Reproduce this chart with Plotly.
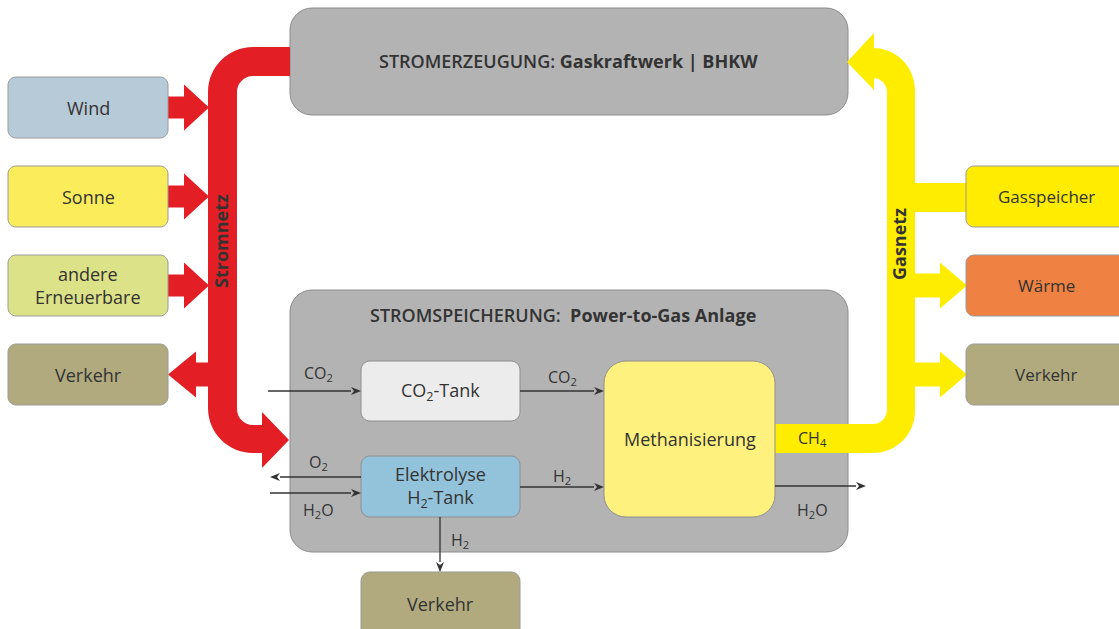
import math
import plotly.graph_objects as go

# ---------------- data (labels / categories) ----------------
source_labels = ["Wind", "Sonne", "andere<br>Erneuerbare"]
source_colors = ["#b7cad8", "#fbec5c", "#dce287"]
left_sink_label = "Verkehr"
right_labels = ["Gasspeicher", "Wärme", "Verkehr"]
right_colors = ["#ffec00", "#ef8142", "#b0aa7e"]
top_title = "STROMERZEUGUNG: <b>Gaskraftwerk | BHKW</b>"
storage_title = "STROMSPEICHERUNG:  <b>Power-to-Gas Anlage</b>"
inner_labels = ["CO<sub>2</sub>-Tank", "Elektrolyse<br>H<sub>2</sub>-Tank", "Methanisierung"]
inner_colors = ["#ececec", "#93c3da", "#fef17e"]
flow_labels = ["CO<sub>2</sub>", "CO<sub>2</sub>", "O<sub>2</sub>", "H<sub>2</sub>O", "H<sub>2</sub>",
               "H<sub>2</sub>", "H<sub>2</sub>O", "CH<sub>4</sub>"]
bottom_label = "Verkehr"
pipe_labels = ["<b>Stromnetz</b>", "<b>Gasnetz</b>"]

# ---------------- geometry (pixel layout) ----------------
W, H = 1119, 629
RED, YEL = "#e31e24", "#ffed00"
GRAY, GRAY_LINE = "#b3b3b3", "#8c8c8c"
TXT = "#333333"
FONT = "Open Sans"

left_box_x = (8, 168)
source_y = [(77, 138), (166, 227), (255, 316)]
left_sink_y = (344, 405)
right_box_x = (966, 1135)
right_y = [(166, 227), (255, 316), (344, 405)]
top_box = (290, 8, 848, 115)
store_box = (290, 290, 848, 552)
inner_boxes = [(361, 361, 520, 421), (361, 456, 520, 517), (604, 361, 775, 517)]
bottom_box = (361, 572, 520, 640)
thin_flows = [((268, 391), (361, 391)), ((520, 391), (604, 391)), ((361, 477), (270, 477)),
              ((270, 493), (361, 493)), ((520, 487), (604, 487)), ((440, 517), (440, 572)),
              ((775, 486), (866, 486))]
flow_pos = [(318, 373), (562, 377), (318, 462), (318, 510), (562, 476), (460, 540), (812, 510), (812, 438)]


def fmt(p):
    return f"{p[0]:.2f},{p[1]:.2f}"


def corner(p1, k, p2):
    c1 = (p1[0] + 0.552 * (k[0] - p1[0]), p1[1] + 0.552 * (k[1] - p1[1]))
    c2 = (p2[0] + 0.552 * (k[0] - p2[0]), p2[1] + 0.552 * (k[1] - p2[1]))
    return f"L{fmt(p1)} C{fmt(c1)} {fmt(c2)} {fmt(p2)} "


def rrect(x0, y0, x1, y1, r):
    return (f"M{x0 + r},{y0} " +
            corner((x1 - r, y0), (x1, y0), (x1, y0 + r)) +
            corner((x1, y1 - r), (x1, y1), (x1 - r, y1)) +
            corner((x0 + r, y1), (x0, y1), (x0, y1 - r)) +
            corner((x0, y0 + r), (x0, y0), (x0 + r, y0)) + "Z")


shapes = []


def add_path(path, fill, line_color=None, width=0):
    shapes.append(dict(type="path", path=path, xref="x", yref="y", fillcolor=fill,
                       line=dict(color=line_color or fill, width=width), layer="above"))


def arrow_h(x0, xb, xt, yc, hs, hh):
    return (f"M{x0},{yc - hs} L{xb},{yc - hs} L{xb},{yc - hh} L{xt},{yc} "
            f"L{xb},{yc + hh} L{xb},{yc + hs} L{x0},{yc + hs} Z")


# ---- big gray boxes (drawn first, pipes run over the lower one) ----
add_path(rrect(*top_box, 22), GRAY, GRAY_LINE, 1)
add_path(rrect(*store_box, 22), GRAY, GRAY_LINE, 1)

# ---- red pipe (Stromnetz) ----
ro, ri = 45, 16
red_pipe = ("M290,47 " +
            corner((208 + ro, 47), (208, 47), (208, 47 + ro)) +
            corner((208, 453 - ro), (208, 453), (208 + ro, 453)) +
            "L262,453 L262,468 L289,440 L262,412 L262,425 " +
            corner((237 + ri, 425), (237, 425), (237, 425 - ri)) +
            corner((237, 76 + ri), (237, 76), (237 + ri, 76)) +
            "L290,76 Z")
add_path(red_pipe, RED)
for (y0, y1) in source_y:
    yc = (y0 + y1) / 2
    add_path(arrow_h(164, 184, 209, yc, 11, 23), RED)
yc = sum(left_sink_y) / 2
add_path(arrow_h(212, 196, 168, yc, 12, 23), RED)

# ---- yellow pipe (Gasnetz) ----
yo, yi = 42, 14
yel_pipe = ("M770,424 " +
            corner((887 - yi, 424), (887, 424), (887, 424 - yi)) +
            corner((887, 78 + yi), (887, 78), (887 - yi, 78)) +
            "L874,78 L874,90 L847,62 L874,33 L874,48 " +
            corner((915 - yo, 48), (915, 48), (915, 48 + yo)) +
            corner((915, 453 - yo), (915, 453), (915 - yo, 453)) +
            "L770,453 Z")
add_path(yel_pipe, YEL)
add_path("M910,183 L970,183 L970,212 L910,212 Z", YEL)
for (y0, y1) in right_y[1:]:
    yc = (y0 + y1) / 2
    add_path(arrow_h(910, 940, 967, yc, 12, 23), YEL)

# ---- small boxes ----
for (y0, y1), c in zip(source_y, source_colors):
    add_path(rrect(left_box_x[0], y0, left_box_x[1], y1, 8), c, "#9a9a9a", 1)
add_path(rrect(left_box_x[0], left_sink_y[0], left_box_x[1], left_sink_y[1], 8), "#b0aa7e", "#9a9a9a", 1)
for (y0, y1), c in zip(right_y, right_colors):
    add_path(rrect(right_box_x[0], y0, right_box_x[1], y1, 8), c, "#9a9a9a", 1)
for b, c in zip(inner_boxes, inner_colors):
    r = 22 if b[2] - b[0] > 165 else 9
    add_path(rrect(*b, r), c, "#8f8f8f", 1)
add_path(rrect(*bottom_box, 9), "#b0aa7e", "#9a9a9a", 1)

# ---- thin flow arrows (line + small filled head) ----
for (x0, y0), (x1, y1) in thin_flows:
    L = math.hypot(x1 - x0, y1 - y0)
    ux, uy = (x1 - x0) / L, (y1 - y0) / L
    hl, hw = 10, 4
    bx, by = x1 - ux * hl, y1 - uy * hl
    shapes.append(dict(type="line", x0=x0, y0=y0, x1=bx, y1=by, xref="x", yref="y",
                       line=dict(color="#333333", width=1.3), layer="above"))
    add_path(f"M{fmt((x1, y1))} L{fmt((bx - uy * hw, by + ux * hw))} "
             f"L{fmt((bx + ux * 3, by + uy * 3))} L{fmt((bx + uy * hw, by - ux * hw))} Z", "#333333")

# ---- annotations ----
ann = []


def label(x, y, text, size=18, angle=0, weight="normal"):
    ann.append(dict(x=x, y=y, xref="x", yref="y", text=text, showarrow=False, textangle=angle,
                    font=dict(family=FONT, size=size, color=TXT, weight=weight),
                    xanchor="center", yanchor="middle"))


label(568, 61, top_title, 18, weight=600)
label(563, 315, storage_title, 18, weight=600)
for (y0, y1), t in zip(source_y, source_labels):
    label(sum(left_box_x) / 2, (y0 + y1) / 2, t)
label(sum(left_box_x) / 2, sum(left_sink_y) / 2, left_sink_label)
for (y0, y1), t in zip(right_y, right_labels):
    label(1046, (y0 + y1) / 2, t, 17)
for b, t in zip(inner_boxes, inner_labels):
    label((b[0] + b[2]) / 2, (b[1] + b[3]) / 2, t, 18)
label(440, 604, bottom_label)
label(221, 241, pipe_labels[0], 18, -90)
label(899, 244, pipe_labels[1], 18, -90)
for (x, y), t in zip(flow_pos, flow_labels):
    label(x, y, t, 16)

fig = go.Figure()
fig.add_trace(go.Scatter(x=[0], y=[0], mode="markers", marker=dict(opacity=0), hoverinfo="skip",
                         showlegend=False))
fig.update_layout(
    width=W, height=H, margin=dict(l=0, r=0, t=0, b=0),
    paper_bgcolor="white", plot_bgcolor="white",
    xaxis=dict(range=[0, W], visible=False, fixedrange=True),
    yaxis=dict(range=[H, 0], visible=False, fixedrange=True),
    shapes=shapes, annotations=ann, showlegend=False,
)
fig.write_html("out.html", config={"displayModeBar": False},
               post_script="document.body.style.margin='0';")
